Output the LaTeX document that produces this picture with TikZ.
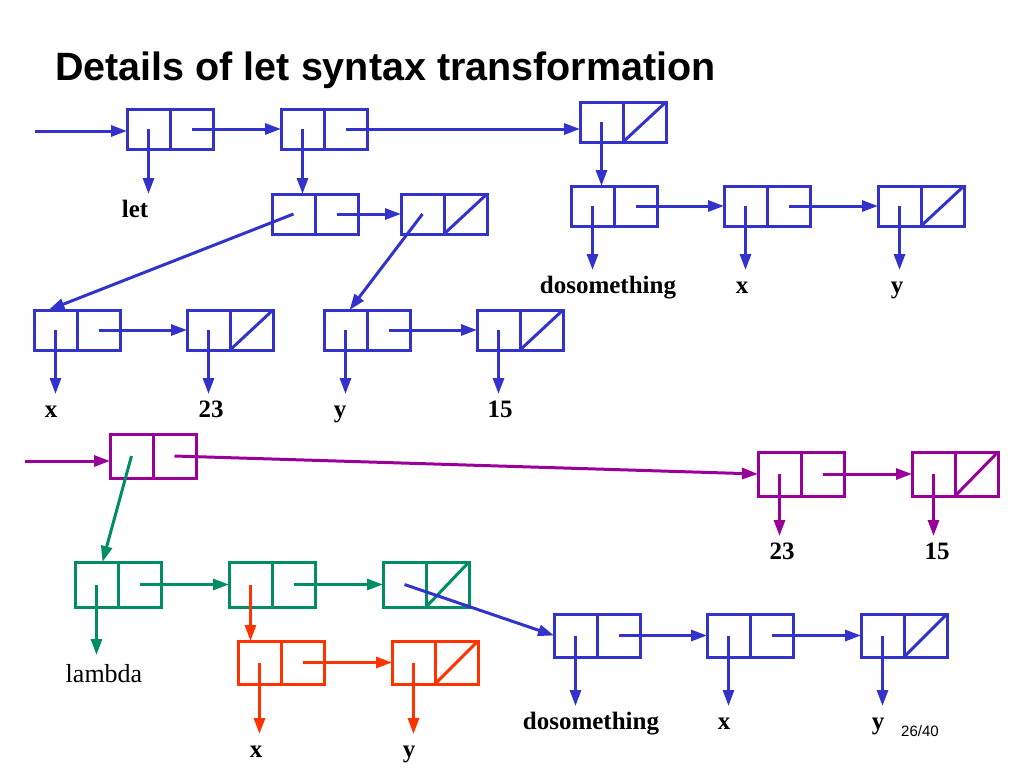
\documentclass[tikz,border=0pt]{standalone}
\usepackage{fontspec}
\setmainfont{Liberation Serif}
\newfontfamily\titlefont{Liberation Sans}
\usetikzlibrary{arrows.meta,calc}
\definecolor{cblue}{RGB}{51,51,204}
\definecolor{cpurple}{RGB}{153,0,153}
\definecolor{cgreen}{RGB}{0,140,100}
\definecolor{cred}{RGB}{255,51,0}
\newcommand\conscell[5]{%
  \node[halfcell,draw=#5,minimum height=#4pt] (#1a) at ({#2+21.5},{#3+#4/2}) {};
  \node[halfcell,draw=#5,minimum height=#4pt] (#1d) at ({#2+64.5},{#3+#4/2}) {};
  }
\newcommand\nilslash[2]{\draw[line width=3pt,#2] (#1d.south west) -- (#1d.north east);}
\begin{document}
\begin{tikzpicture}[x=1pt,y=-1pt,
  halfcell/.style={rectangle,inner sep=0pt,outer sep=0pt,minimum width=43pt,line width=3pt},
  arr/.style={line width=3pt,-{Triangle[length=16pt,width=11pt]}},
  lab/.style={font=\bfseries\fontsize{25}{30}\selectfont,text height=16pt,text depth=6pt,inner sep=0pt,outer sep=7pt,anchor=base}]
\useasboundingbox (0,0) rectangle (1024,768);
\node[anchor=base west,font=\titlefont\bfseries\fontsize{39.5}{46}\selectfont,inner sep=0pt] (title) at (55,80) {Details of let syntax transformation};

% top structure (blue)
\conscell{A}{127}{109}{40}{cblue}
\conscell{B}{281}{109}{40}{cblue}
\conscell{C}{580}{102}{40}{cblue}\nilslash{C}{cblue}
\conscell{D}{571}{186}{40}{cblue}
\conscell{E}{724}{186}{40}{cblue}
\conscell{F}{878}{186}{40}{cblue}\nilslash{F}{cblue}
\conscell{G}{272}{194}{40}{cblue}
\conscell{H}{401}{194}{40}{cblue}\nilslash{H}{cblue}
\conscell{I}{34}{310}{40}{cblue}
\conscell{J}{187}{310}{40}{cblue}\nilslash{J}{cblue}
\conscell{K}{324}{310}{40}{cblue}
\conscell{L}{477}{310}{40}{cblue}\nilslash{L}{cblue}

\node[lab] (let) at (135,217) {let};
\node[lab] (dos1) at (608,293) {dosomething};
\node[lab] (x1) at (742,293) {x};
\node[lab] (y1) at (897,293) {y};
\node[lab] (x2) at (51,417) {x};
\node[lab] (n23a) at (211,417) {23};
\node[lab] (y2) at (340,417) {y};
\node[lab] (n15a) at (500,417) {15};

\coordinate (in1) at (35,131);
\draw[arr,cblue] (in1) -- (in1 -| Aa.west);
\draw[arr,cblue] (Ad.center) -- (Ba.west);
\draw[arr,cblue] (Bd.center) -- (Bd.center -| Ca.west);
\draw[arr,cblue] (Aa.center) -- (Aa.center |- let.north);
\draw[arr,cblue] (Ba.center) -- (Ba.center |- Ga.north);
\draw[arr,cblue] (Ca.center) -- (Ca.center |- Da.north);
\draw[arr,cblue] (Dd.center) -- (Ea.west);
\draw[arr,cblue] (Ed.center) -- (Fa.west);
\draw[arr,cblue] (Da.center) -- (Da.center |- dos1.north);
\draw[arr,cblue] (Ea.center) -- (Ea.center |- x1.north);
\draw[arr,cblue] (Fa.center) -- (Fa.center |- y1.north);
\draw[arr,cblue] (Gd.center) -- (Ha.west);
\draw[arr,cblue] (Ga.center) -- ([xshift=-7pt]Ia.north);
\draw[arr,cblue] (Ha.center) -- ([xshift=4pt]Ka.north);
\draw[arr,cblue] (Id.center) -- (Ja.west);
\draw[arr,cblue] (Kd.center) -- (La.west);
\draw[arr,cblue] (Ia.center) -- (Ia.center |- x2.north);
\draw[arr,cblue] (Ja.center) -- (Ja.center |- n23a.north);
\draw[arr,cblue] (Ka.center) -- (Ka.center |- y2.north);
\draw[arr,cblue] (La.center) -- (La.center |- n15a.north);

% purple
\conscell{P}{110}{434}{44}{cpurple}
\conscell{Qa}{758}{452}{44}{cpurple}
\conscell{Qb}{912}{452}{44}{cpurple}\nilslash{Qb}{cpurple}
\node[lab] (n23b) at (782,559) {23};
\node[lab] (n15b) at (937,559) {15};
\coordinate (in2) at (25,461);
\draw[arr,cpurple] (in2) -- (in2 -| Pa.west);
\draw[arr,cpurple] (Pd.center) -- (Qaa.west);
\draw[arr,cpurple] (Qad.center) -- (Qba.west);
\draw[arr,cpurple] (Qaa.center) -- (Qaa.center |- n23b.north);
\draw[arr,cpurple] (Qba.center) -- (Qba.center |- n15b.north);

% green
\conscell{Ga}{75}{562}{45}{cgreen}
\conscell{Gb}{229}{562}{45}{cgreen}
\conscell{Gc}{383}{562}{45}{cgreen}\nilslash{Gc}{cgreen}
\node[lab,font=\fontsize{26}{30}\selectfont,outer sep=11pt] (lambda) at (104,682) {lambda};
\draw[arr,cgreen] (Pa.center) -- ([xshift=6pt]Gaa.north);
\draw[arr,cgreen] (Gad.center) -- (Gba.west);
\draw[arr,cgreen] (Gbd.center) -- (Gca.west);
\draw[arr,cgreen] (Gaa.center) -- (Gaa.center |- lambda.north);

% red
\conscell{R}{238}{641}{43}{cred}
\conscell{S}{392}{641}{43}{cred}\nilslash{S}{cred}
\node[lab] (x3) at (256,757) {x};
\node[lab] (y3) at (409,757) {y};
\draw[arr,cred] (Gba.center) -- (Gba.center |- Ra.north);
\draw[arr,cred] (Rd.center) -- (Sa.west);
\draw[arr,cred] (Ra.center) -- (Ra.center |- x3.north);
\draw[arr,cred] (Sa.center) -- (Sa.center |- y3.north);

% blue bottom
\conscell{U}{554}{614}{43}{cblue}
\conscell{V}{707}{614}{43}{cblue}
\conscell{W}{861}{614}{43}{cblue}\nilslash{W}{cblue}
\node[lab] (dos2) at (591,729) {dosomething};
\node[lab] (x4) at (724,729) {x};
\node[lab] (y4) at (878,729) {y};
\draw[arr,cblue] (Gca.center) -- (Ua.west);
\draw[arr,cblue] (Ud.center) -- (Va.west);
\draw[arr,cblue] (Vd.center) -- (Wa.west);
\draw[arr,cblue] (Ua.center) -- (Ua.center |- dos2.north);
\draw[arr,cblue] (Va.center) -- (Va.center |- x4.north);
\draw[arr,cblue] (Wa.center) -- (Wa.center |- y4.north);

\node[anchor=base west,font=\titlefont\fontsize{15}{18}\selectfont,inner sep=0pt] (page) at (901,736) {26/40};
\end{tikzpicture}
\end{document}
